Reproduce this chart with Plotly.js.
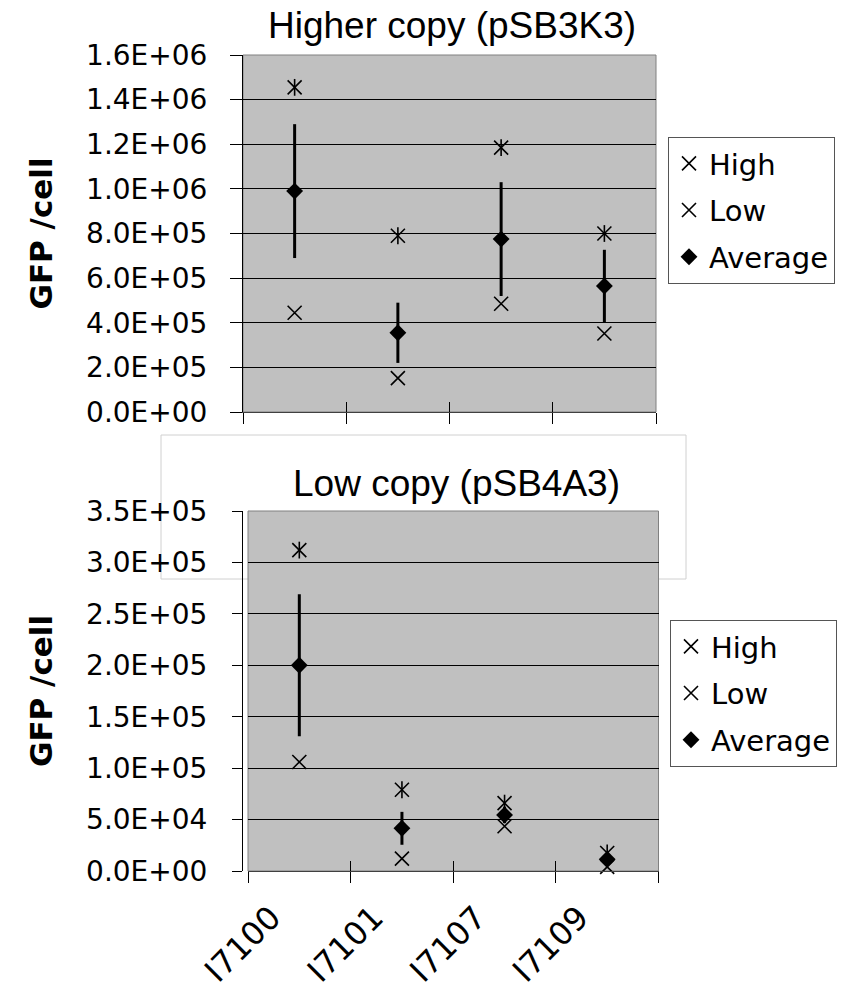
<!DOCTYPE html>
<html><head><meta charset="utf-8">
<script src="https://cdn.plot.ly/plotly-3.0.1.min.js"></script>
<style>html,body{margin:0;padding:0;background:#fff}</style>
</head><body><div id="chart" style="width:854px;height:994px"></div>
<script>
const categories = ['I7100', 'I7101', 'I7107', 'I7109'];
const seriesNames = ['High', 'Low', 'Average'];

const topHigh = [1455000, 790000, 1185000, 800000];
const topLow  = [445000, 152000, 485000, 352000];
const topAvg  = [990000, 355000, 775000, 565000];
const topErr  = [300000, 135000, 255000, 162000];

const bottomHigh = [312000, 79000, 66000, 17500];
const bottomLow  = [106000, 12000, 43500, 4000];
const bottomAvg  = [200000, 41500, 54500, 11500];
const bottomErr  = [69000, 16000, 8000, 5000];

const topTickVals = [0, 200000, 400000, 600000, 800000, 1000000, 1200000, 1400000, 1600000];
const topTickText = ['0.0E+00', '2.0E+05', '4.0E+05', '6.0E+05', '8.0E+05', '1.0E+06', '1.2E+06', '1.4E+06', '1.6E+06'];
const bottomTickVals = [0, 50000, 100000, 150000, 200000, 250000, 300000, 350000];
const bottomTickText = ['0.0E+00', '5.0E+04', '1.0E+05', '1.5E+05', '2.0E+05', '2.5E+05', '3.0E+05', '3.5E+05'];

const topTitle = 'Higher copy (pSB3K3)';
const bottomTitle = 'Low copy (pSB4A3)';
const yTitle = 'GFP /cell';

const boundaryTicks = categories.map((c, i) => i).concat([categories.length]);

function makeSet(high, low, avg, err, xa, ya, leg, idx) {
  const xMark = {color: '#000', width: 1.6};
  return [
    {type: 'scatter', mode: 'markers', name: seriesNames[0], x: categories, y: high, xaxis: xa, yaxis: ya,
     legend: leg, legendgroup: 'h' + idx, cliponaxis: false,
     marker: {symbol: 'x-thin-open', size: 14, color: '#000', line: xMark}},
    {type: 'scatter', mode: 'markers', name: seriesNames[0], x: categories, y: high, xaxis: xa, yaxis: ya,
     legend: leg, legendgroup: 'h' + idx, showlegend: false, cliponaxis: false, hoverinfo: 'skip',
     marker: {symbol: 'line-ns-open', size: 12, color: '#000', line: xMark}},
    {type: 'scatter', mode: 'markers', name: seriesNames[1], x: categories, y: low, xaxis: xa, yaxis: ya,
     legend: leg, legendgroup: 'l' + idx, cliponaxis: false,
     marker: {symbol: 'x-thin-open', size: 14, color: '#000', line: xMark}},
    {type: 'scatter', mode: 'markers', name: seriesNames[2], x: categories, y: avg, xaxis: xa, yaxis: ya,
     legend: leg, legendgroup: 'a' + idx, cliponaxis: false,
     marker: {symbol: 'diamond', size: 13, color: '#000'},
     error_y: {type: 'data', array: err, visible: true, color: '#000', thickness: 3, width: 0}}
  ];
}

const data = [].concat(
  makeSet(topHigh, topLow, topAvg, topErr, 'x', 'y', 'legend', 1),
  makeSet(bottomHigh, bottomLow, bottomAvg, bottomErr, 'x2', 'y2', 'legend2', 2),
  [
    {type: 'scatter', mode: 'markers', x: [boundaryTicks[0]], y: [null], xaxis: 'x3', yaxis: 'y', showlegend: false, hoverinfo: 'skip'},
    {type: 'scatter', mode: 'markers', x: [boundaryTicks[0]], y: [null], xaxis: 'x4', yaxis: 'y2', showlegend: false, hoverinfo: 'skip'}
  ]
);

const tickFont = {family: 'DejaVu Sans', size: 28, color: '#000'};
const W = 854, H = 994;
const px = v => v / W;
const py = v => 1 - v / H;

function yAxis(domain, vals, text, ticklen, standoff) {
  return {
    domain: domain, range: [vals[0], vals[vals.length - 1]], tickmode: 'array', tickvals: vals, ticktext: text,
    ticks: 'outside', ticklen: ticklen, tickwidth: 1, tickcolor: '#000',
    showline: true, linecolor: '#000', linewidth: 1,
    showgrid: true, gridcolor: '#000', gridwidth: 1, zeroline: false,
    tickfont: tickFont, ticklabelstandoff: standoff, fixedrange: true,
    title: {text: yTitle, font: {family: 'DejaVu Sans', size: 31, color: '#000', weight: 'bold'}, standoff: 24}
  };
}
function xCat(domain, anchor, showLabels) {
  return {
    domain: domain, anchor: anchor, type: 'category', categoryorder: 'array', categoryarray: categories,
    range: [-0.5, categories.length - 0.5], tickson: 'boundaries',
    ticks: 'outside', ticklen: 11, tickwidth: 1, tickcolor: '#000',
    showline: true, linecolor: '#404040', linewidth: 1, showgrid: false, zeroline: false,
    showticklabels: showLabels, tickangle: -45,
    tickfont: {family: 'DejaVu Sans', size: 32, color: '#000'},
    ticklabelstandoff: 14, ticklabelshift: -28, fixedrange: true
  };
}
function xOver(over, anchor) {
  return {
    overlaying: over, anchor: anchor, range: [0, categories.length], tickmode: 'array', tickvals: boundaryTicks,
    ticks: 'inside', ticklen: 10, tickwidth: 1, tickcolor: '#000',
    showline: false, showgrid: false, zeroline: false, showticklabels: false, fixedrange: true
  };
}

const legendBase = {
  xanchor: 'left', yanchor: 'top', bgcolor: '#fff', bordercolor: '#555', borderwidth: 1,
  font: {family: 'DejaVu Sans', size: 29, color: '#000'}, traceorder: 'grouped', tracegroupgap: 6,
  itemclick: false, itemdoubleclick: false
};

const layout = {
  width: W, height: H, autosize: false,
  margin: {l: 0, r: 0, t: 0, b: 0},
  paper_bgcolor: '#fff', plot_bgcolor: 'rgba(0,0,0,0)',
  showlegend: true,
  xaxis: xCat([px(243), px(656)], 'y', false),
  yaxis: yAxis([py(412), py(55)], topTickVals, topTickText, 12, 17),
  xaxis2: xCat([px(248), px(658.5)], 'y2', true),
  yaxis2: yAxis([py(871), py(511)], bottomTickVals, bottomTickText, 10, 19),
  xaxis3: xOver('x', 'y'),
  xaxis4: xOver('x2', 'y2'),
  legend: Object.assign({x: px(668), y: py(137)}, legendBase),
  legend2: Object.assign({x: px(670), y: py(620)}, legendBase),
  shapes: [
    {type: 'rect', xref: 'paper', yref: 'paper', x0: px(161), x1: px(686), y0: py(579), y1: py(435),
     fillcolor: '#fff', line: {color: '#d0d0d0', width: 1}, layer: 'below'},
    {type: 'rect', xref: 'x domain', yref: 'y domain', x0: 0, x1: 1, y0: 0, y1: 1,
     fillcolor: '#c0c0c0', line: {color: '#808080', width: 1}, layer: 'below'},
    {type: 'rect', xref: 'x2 domain', yref: 'y2 domain', x0: 0, x1: 1, y0: 0, y1: 1,
     fillcolor: '#c0c0c0', line: {color: '#808080', width: 1}, layer: 'below'}
  ],
  annotations: [
    {text: topTitle, xref: 'paper', yref: 'paper', x: px(452), y: py(25), xanchor: 'center', yanchor: 'middle',
     showarrow: false, font: {family: 'Liberation Sans', size: 37, color: '#000'}},
    {text: bottomTitle, xref: 'paper', yref: 'paper', x: px(456), y: py(483), xanchor: 'center', yanchor: 'middle',
     showarrow: false, font: {family: 'Liberation Sans', size: 37, color: '#000'}}
  ]
};

Plotly.newPlot('chart', data, layout, {displayModeBar: false, staticPlot: true});
</script>
</body></html>
